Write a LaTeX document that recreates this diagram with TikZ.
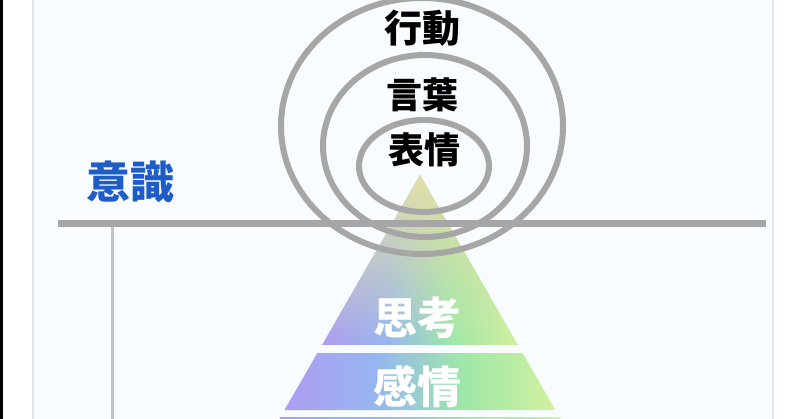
\documentclass[tikz,border=0pt]{standalone}
\usepackage{fontspec}
\newfontfamily\cjk{Noto Sans CJK JP}
\usetikzlibrary{fadings}
\definecolor{ringgray}{HTML}{A6A6A6}
\definecolor{vgray}{HTML}{C2C2C2}
\definecolor{panelbg}{HTML}{F8FCFE}
\definecolor{paneledge}{HTML}{E4E4EA}
\definecolor{ishikiblue}{HTML}{1E5DC8}
\definecolor{cpurple}{HTML}{AE9CF2}
\definecolor{cblue}{HTML}{96B6F0}
\definecolor{cgreen}{HTML}{9EE8A8}
\definecolor{cyellow}{HTML}{D2F0A0}
\definecolor{cbeige}{HTML}{E4DEA8}
\pgfdeclarehorizontalshading{rainbow}{100bp}{color(0bp)=(cpurple); color(25bp)=(cpurple); color(42bp)=(cblue); color(58bp)=(cgreen); color(75bp)=(cyellow); color(100bp)=(cyellow)}
\tikzset{
  ring/.style={draw=ringgray, line width=6pt},
  layer/.style={shading=rainbow},
  blacktext/.style={font=\cjk\bfseries\fontsize{36pt}{36pt}\selectfont, text=black, inner sep=0pt},
  whitetext/.style={font=\cjk\bfseries\fontsize{44pt}{44pt}\selectfont, text=white, inner sep=0pt},
}
\begin{document}
\begin{tikzpicture}[x=1pt,y=-1pt]
\useasboundingbox (0,0) rectangle (800,419);
% page and panel
\fill[white] (0,0) rectangle (800,419);
\fill[panelbg] (33,0) rectangle (773,419);
\draw[paneledge, line width=1.5pt] (33,0) -- (33,419);
\draw[paneledge, line width=1.5pt] (773,0) -- (773,419);
\fill[black] (0,0) rectangle (3,419);
% pyramid
\path[layer] (420,175) -- (518,345) -- (322,345) -- cycle;
\fill[cbeige, path fading=south] (420,175) -- (518,345) -- (322,345) -- cycle;
\path[layer] (317.4,353) -- (522.6,353) -- (555.5,410) -- (284.5,410) -- cycle;
\path[layer] (280.5,417) -- (559.5,417) -- (564,425) -- (276,425) -- cycle;
% level texts
\node[whitetext] (shikou) at (417,318) {思考};
\node[whitetext] (kanjou) at (417,387) {感情};
% vertical line
\draw[vgray, line width=3pt] (112,226) -- (112,419);
% rings
\draw[ring] (422,126) ellipse [x radius=141pt, y radius=128pt];
\draw[ring] (425,146) ellipse [x radius=102pt, y radius=91pt];
\draw[ring] (424,166) ellipse [x radius=65pt, y radius=46pt];
\draw[ringgray, line width=7pt] (58,224) -- (766,224);
% ring texts
\node[blacktext, font=\cjk\bfseries\fontsize{38pt}{38pt}\selectfont] (koudou) at (422,28) {行動};
\node[blacktext] (kotoba) at (422,95) {言葉};
\node[blacktext] (hyoujou) at (424,150) {表情};
% ishiki
\node[font=\cjk\bfseries\fontsize{44pt}{44pt}\selectfont, text=ishikiblue, inner sep=0pt] (ishiki) at (130,182) {意識};
\end{tikzpicture}
\end{document}
